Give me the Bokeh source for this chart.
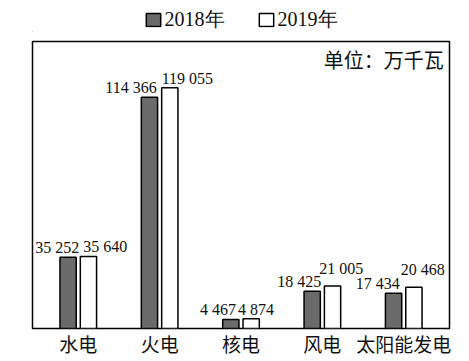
from bokeh.plotting import figure
from bokeh.models import FactorRange, Legend, LegendItem, ColumnDataSource
from bokeh.layouts import column
from bokeh.transform import dodge
from bokeh.core.properties import value
from bokeh.embed import file_html
from bokeh.resources import INLINE

categories = ["水电", "火电", "核电", "风电", "太阳能发电"]
values_2018 = [35252, 114366, 4467, 18425, 17434]
values_2019 = [35640, 119055, 4874, 21005, 20468]
labels_2018 = ["35 252", "114 366", "4 467", "18 425", "17 434"]
labels_2019 = ["35 640", "119 055", "4 874", "21 005", "20 468"]
series_names = ["2018年", "2019年"]
unit_text = "单位：万千瓦"

# label placement styles (px): horizontal shift of 2018 / 2019 labels, extra lift of 2019 labels
dx_2018 = {"水电": 1, "火电": -3, "核电": -5, "风电": -1, "太阳能发电": -4}
dx_2019 = {"水电": 5, "火电": 2, "核电": -3, "风电": -3, "太阳能发电": -3}
lift_2019 = {"风电": 8, "太阳能发电": 8}

dark = "#6a6a6a"

src = ColumnDataSource(dict(cat=categories, v18=values_2018, v19=values_2019,
                            l18=labels_2018, l19=labels_2019,
                            dx18=[dx_2018[c] for c in categories],
                            dx19=[dx_2019[c] for c in categories],
                            yo=[-1 - lift_2019.get(c, 0) for c in categories]))

# ---- legend strip (own figure so it is not clipped) ----
lg = figure(width=461, height=32, output_backend="svg", toolbar_location=None,
            x_range=(0, 1), y_range=(0, 1),
            min_border_left=32, min_border_right=12, min_border_top=6, min_border_bottom=0)
lg.axis.visible = False
lg.grid.visible = False
lg.outline_line_color = None
lg.border_fill_color = "white"
d18 = lg.vbar(x=[-5], top=[-5], width=0.1, fill_color=dark, line_color="black", line_width=1.5)
d19 = lg.vbar(x=[-5], top=[-5], width=0.1, fill_color="white", line_color="black", line_width=1.5)
legend = Legend(items=[LegendItem(label=series_names[0], renderers=[d18]),
                       LegendItem(label=series_names[1], renderers=[d19])],
                orientation="horizontal", location="center",
                label_text_font="Liberation Serif", label_text_font_size="20px",
                label_text_color="#111111",
                glyph_width=18, glyph_height=16, spacing=32, padding=0, margin=0,
                label_standoff=3,
                border_line_alpha=0, background_fill_alpha=0)
lg.add_layout(legend)

# ---- main chart ----
p = figure(width=461, height=327, x_range=FactorRange(factors=categories, range_padding=0.025),
           y_range=(0, 142000), output_backend="svg", toolbar_location=None,
           min_border_left=32, min_border_right=12, min_border_top=9, min_border_bottom=0)

p.grid.visible = False
p.yaxis.visible = False
p.outline_line_color = "black"
p.outline_line_width = 1.5
p.background_fill_color = "white"
p.border_fill_color = "white"

xa = p.xaxis[0]
xa.axis_line_color = None
xa.major_tick_line_color = None
xa.minor_tick_line_color = None
xa.major_tick_out = 0
xa.major_tick_in = 0
xa.major_label_text_font = "Noto Sans CJK SC"
xa.major_label_text_font_size = "19px"
xa.major_label_text_color = "#111111"
xa.major_label_standoff = 1

p.vbar(x=dodge("cat", -0.125, range=p.x_range), top="v18", width=0.2, source=src,
       fill_color=dark, line_color="black", line_width=1.5)
p.vbar(x=dodge("cat", 0.125, range=p.x_range), top="v19", width=0.2, source=src,
       fill_color="white", line_color="black", line_width=1.5)

p.text(x="cat", y="v18", text="l18", source=src, x_offset="dx18",
       text_align="right", text_baseline="bottom", y_offset=-1,
       text_font=value("Liberation Serif"), text_font_size="16px", text_color="#111111")
p.text(x="cat", y="v19", text="l19", source=src, x_offset="dx19",
       text_align="left", text_baseline="bottom", y_offset="yo",
       text_font=value("Liberation Serif"), text_font_size="16px", text_color="#111111")

p.text(x=[categories[-1]], y=[142000], text=[unit_text], x_offset=40, y_offset=3,
       text_align="right", text_baseline="top",
       text_font=value("Noto Sans CJK SC"), text_font_size="20px", text_color="#111111")

layout = column(lg, p, spacing=0)
open("out.html", "w").write(file_html(layout, INLINE))
